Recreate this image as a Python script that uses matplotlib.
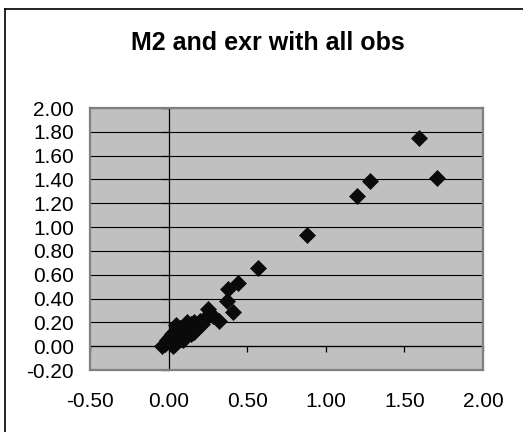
import matplotlib.pyplot as plt
from matplotlib.lines import Line2D

plt.rcParams['font.family'] = ['Liberation Sans', 'DejaVu Sans']

TITLE = 'M2 and exr with all obs'

# M2 (x) vs exr (y)
m2 = [1.59, 1.71, 1.28, 1.20, 0.88, 0.57, 0.44, 0.38, 0.37, 0.41, 0.32, 0.28, 0.25,
      0.22, -0.04, -0.02, 0.00, 0.00, 0.02, 0.02, 0.03, 0.04, 0.05, 0.06, 0.07,
      0.08, 0.09, 0.10, 0.11, 0.13, 0.14, 0.15, 0.17, 0.19, 0.21, 0.03, 0.03, 0.05,
      0.12, 0.16, -0.01, 0.01, 0.04, 0.06, 0.08, 0.10, 0.12, 0.14, 0.18, 0.20,
      0.07, 0.09, 0.11, 0.13, 0.16]
exr = [1.75, 1.41, 1.39, 1.26, 0.93, 0.66, 0.53, 0.48, 0.38, 0.29, 0.21, 0.25, 0.31,
       0.22, 0.00, 0.02, 0.04, 0.07, 0.03, 0.10, 0.06, 0.13, 0.09, 0.04, 0.15,
       0.06, 0.12, 0.17, 0.11, 0.13, 0.19, 0.14, 0.16, 0.18, 0.19, 0.00, 0.11, 0.18,
       0.20, 0.12, 0.05, 0.08, 0.02, 0.11, 0.14, 0.08, 0.16, 0.10, 0.15, 0.21,
       0.09, 0.05, 0.14, 0.18, 0.20]

x_ticks = [-0.5, 0.0, 0.5, 1.0, 1.5, 2.0]
y_ticks = [-0.2, 0.0, 0.2, 0.4, 0.6, 0.8, 1.0, 1.2, 1.4, 1.6, 1.8, 2.0]

fig = plt.figure(figsize=(5.23, 4.32), dpi=100)
pos = [90 / 523, 1 - 370 / 432, 393 / 523, 262 / 432]

# main axes: grey area, gridlines, axes crossing at zero
ax = fig.add_axes(pos)
ax.set_facecolor('#C0C0C0')
ax.set_xlim(x_ticks[0], x_ticks[-1])
ax.set_ylim(y_ticks[0], y_ticks[-1])
ax.set_xticks(x_ticks)
ax.set_yticks(y_ticks)
ax.yaxis.grid(True, color='black', linewidth=0.8)
ax.set_axisbelow(True)
for s in ['top', 'right']:
    ax.spines[s].set_visible(False)
ax.spines['bottom'].set_position(('data', 0))
ax.spines['left'].set_position(('data', 0))
ax.spines['bottom'].set_linewidth(0.9)
ax.spines['left'].set_linewidth(0.9)
ax.tick_params(axis='x', direction='out', length=4, width=0.9, labelbottom=False)
ax.tick_params(axis='y', direction='out', length=6, width=0.9, labelleft=False)

ax.plot(m2, exr, linestyle='none', marker='D', markersize=8.5,
        color='#0A0A0A', markeredgecolor='#0A0A0A', markeredgewidth=0.5, zorder=5)

# overlay axes for the grey frame and tick labels at the edges
ax2 = fig.add_axes(pos, sharex=ax, sharey=ax)
ax2.patch.set_visible(False)
for s in ax2.spines.values():
    s.set_color('#808080')
    s.set_linewidth(1.6)
ax2.tick_params(length=0, labelsize=15, pad=11.5)
ax2.tick_params(axis='x', pad=16)
ax2.xaxis.set_major_formatter(lambda v, p: f'{v:.2f}')
ax2.yaxis.set_major_formatter(lambda v, p: f'{v:.2f}')

fig.text(0.512, 0.90, TITLE, ha='center', va='center', fontsize=18, fontweight='bold')

# chart area border (only top and left visible in the picture)
fig.add_artist(Line2D([5 / 523, 5 / 523], [0, 1 - 9 / 432], color='black', linewidth=1.2))
fig.add_artist(Line2D([5 / 523, 1], [1 - 9 / 432, 1 - 9 / 432], color='black', linewidth=1.2))

fig.savefig('out.png', dpi=100)
